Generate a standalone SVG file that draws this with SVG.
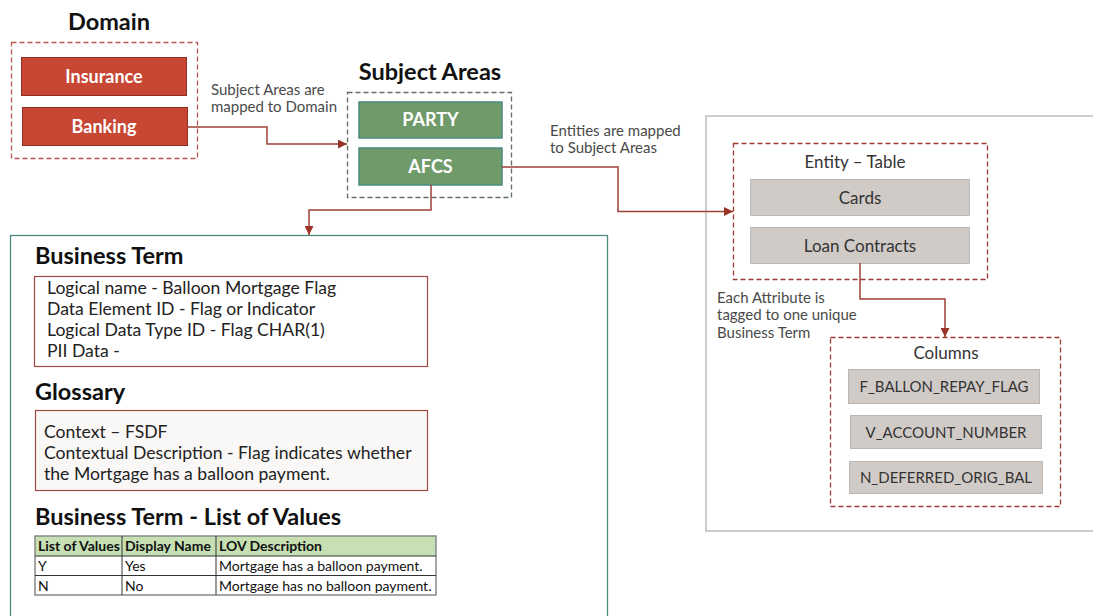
<svg xmlns="http://www.w3.org/2000/svg" width="1093" height="616" viewBox="0 0 1093 616">
<defs>
<style>
.title{font-family:Lato,"Open Sans","Liberation Sans",sans-serif;font-weight:bold;fill:#111;font-size:23.5px;}
.lbl{font-family:Lato,"Open Sans","Liberation Sans",sans-serif;fill:#4a4a4a;font-size:15px;}
.body{font-family:Lato,"Open Sans","Liberation Sans",sans-serif;fill:#222;font-size:17.6px;}
.red{fill:#c74634;stroke:#8f2f24;stroke-width:1;}
.green{fill:#6f9b6a;stroke:#4b8a84;stroke-width:1.5;}
.gray{fill:#d1cbc8;stroke:#bdb7b4;stroke-width:1;}
.wt{font-family:Lato,"Open Sans","Liberation Sans",sans-serif;font-weight:bold;fill:#fff;font-size:18px;text-anchor:middle;}
.gt{font-family:Lato,"Open Sans","Liberation Sans",sans-serif;fill:#333;text-anchor:middle;}
.dash{fill:none;stroke-width:1.3;stroke-dasharray:5 3;}
.conn{fill:none;stroke:#9e4036;stroke-width:1.5;}
.tbl{font-family:Lato,"Liberation Sans",sans-serif;font-size:14px;fill:#111;}
</style>
<marker id="arr" viewBox="0 0 10 10" refX="10" refY="5" markerWidth="9" markerHeight="9" markerUnits="userSpaceOnUse" orient="auto">
<path d="M0,0 L10,5 L0,10 z" fill="#9a3427"/>
</marker>
</defs>
<rect width="1093" height="616" fill="#fff"/>

<g id="domain">
<text class="title" x="109" y="30" text-anchor="middle">Domain</text>
<rect class="dash" x="11.5" y="42.5" width="186" height="116" stroke="#b45a50"/>
</g>
<g id="insurance">
<rect class="red" x="21.5" y="57.5" width="165" height="38"/>
<text class="wt" x="104" y="83">Insurance</text>
</g>
<g id="banking">
<rect class="red" x="22.5" y="107.5" width="165" height="38"/>
<text class="wt" x="104" y="133">Banking</text>
</g>

<g id="subject-areas">
<text class="title" x="430" y="80" text-anchor="middle">Subject Areas</text>
<rect class="dash" x="347.5" y="92.5" width="164" height="105" stroke="#5f6f5f"/>
</g>
<g id="party">
<rect class="green" x="359" y="102" width="143" height="36"/>
<text class="wt" x="430.5" y="126">PARTY</text>
</g>
<g id="afcs">
<rect class="green" x="359" y="148" width="143" height="37"/>
<text class="wt" x="430.5" y="172.5">AFCS</text>
</g>

<g id="business-term-panel">
<rect x="10.5" y="235.5" width="597" height="400" fill="#fff" stroke="#4f8a80" stroke-width="1.3"/>
<text class="title" x="35" y="264">Business Term</text>
<rect x="34.5" y="276.5" width="393" height="90" fill="#fff" stroke="#9e4a42" stroke-width="1.2"/>
<text class="body" x="47" y="294">Logical name - Balloon Mortgage Flag</text>
<text class="body" x="47" y="315">Data Element ID - Flag or Indicator</text>
<text class="body" x="47" y="336">Logical Data Type ID - Flag CHAR(1)</text>
<text class="body" x="47" y="357">PII Data -</text>
<text class="title" x="35" y="400">Glossary</text>
<rect x="35.5" y="410.5" width="392" height="80" fill="#faf8f7" stroke="#9e4a42" stroke-width="1.2"/>
<text class="body" x="44" y="438">Context – FSDF</text>
<text class="body" x="44" y="459">Contextual Description - Flag indicates whether</text>
<text class="body" x="44" y="480">the Mortgage has a balloon payment.</text>
<text class="title" x="35" y="525">Business Term - List of Values</text>
<g id="lov-table">
<rect x="35" y="536" width="401" height="20" fill="#c6e0b4"/>
<rect x="35" y="536" width="401" height="59" fill="none" stroke="#888" stroke-width="1.5"/>
<line x1="35" y1="556" x2="436" y2="556" stroke="#333" stroke-width="1"/>
<line x1="35" y1="575.5" x2="436" y2="575.5" stroke="#333" stroke-width="1"/>
<line x1="122" y1="536" x2="122" y2="595" stroke="#333" stroke-width="1"/>
<line x1="216" y1="536" x2="216" y2="595" stroke="#333" stroke-width="1"/>
<text class="tbl" x="38" y="551" font-weight="bold">List of Values</text>
<text class="tbl" x="125" y="551" font-weight="bold">Display Name</text>
<text class="tbl" x="219" y="551" font-weight="bold">LOV Description</text>
<text class="tbl" x="38" y="571">Y</text>
<text class="tbl" x="125" y="571">Yes</text>
<text class="tbl" x="219" y="571">Mortgage has a balloon payment.</text>
<text class="tbl" x="38" y="590.5">N</text>
<text class="tbl" x="125" y="590.5">No</text>
<text class="tbl" x="219" y="590.5">Mortgage has no balloon payment.</text>
</g>
</g>

<g id="entity-panel">
<rect x="706" y="116" width="420" height="415" fill="#fff" stroke="#bdbdbd" stroke-width="1.5"/>
<rect class="dash" x="733.5" y="143.5" width="254" height="136" stroke="#9e3a30"/>
<text class="gt" x="855" y="168" font-size="17">Entity – Table</text>
</g>
<g id="cards">
<rect class="gray" x="750.5" y="179.5" width="219" height="36"/>
<text class="gt" x="860" y="204" font-size="17">Cards</text>
</g>
<g id="loan-contracts">
<rect class="gray" x="750.5" y="227.5" width="219" height="36"/>
<text class="gt" x="860" y="252" font-size="17">Loan Contracts</text>
</g>

<g id="columns">
<rect class="dash" x="830.5" y="337.5" width="230" height="169" stroke="#9e3a30"/>
<text class="gt" x="946" y="359" font-size="17">Columns</text>
</g>
<g id="col-f">
<rect class="gray" x="848.5" y="369.5" width="191" height="34"/>
<text class="gt" x="944" y="392" font-size="15">F_BALLON_REPAY_FLAG</text>
</g>
<g id="col-v">
<rect class="gray" x="850.5" y="415.5" width="191" height="33"/>
<text class="gt" x="946" y="438" font-size="15">V_ACCOUNT_NUMBER</text>
</g>
<g id="col-n">
<rect class="gray" x="849.5" y="461.5" width="193" height="32"/>
<text class="gt" x="946" y="483" font-size="15">N_DEFERRED_ORIG_BAL</text>
</g>

<g id="connectors">
<path class="conn" d="M187,127 H267 V144 H347" marker-end="url(#arr)"/>
<path class="conn" d="M431,185 V210 H309 V235" marker-end="url(#arr)"/>
<path class="conn" d="M502,167 H618 V211.5 H733" marker-end="url(#arr)"/>
<path class="conn" d="M860,263 V299 H945 V337" marker-end="url(#arr)"/>
<text class="lbl" x="211" y="95">Subject Areas are</text>
<text class="lbl" x="211" y="112">mapped to Domain</text>
<text class="lbl" x="550" y="136">Entities are mapped</text>
<text class="lbl" x="550" y="153">to Subject Areas</text>
<text class="lbl" x="717" y="303">Each Attribute is</text>
<text class="lbl" x="717" y="320">tagged to one unique</text>
<text class="lbl" x="717" y="338">Business Term</text>
</g>
</svg>
